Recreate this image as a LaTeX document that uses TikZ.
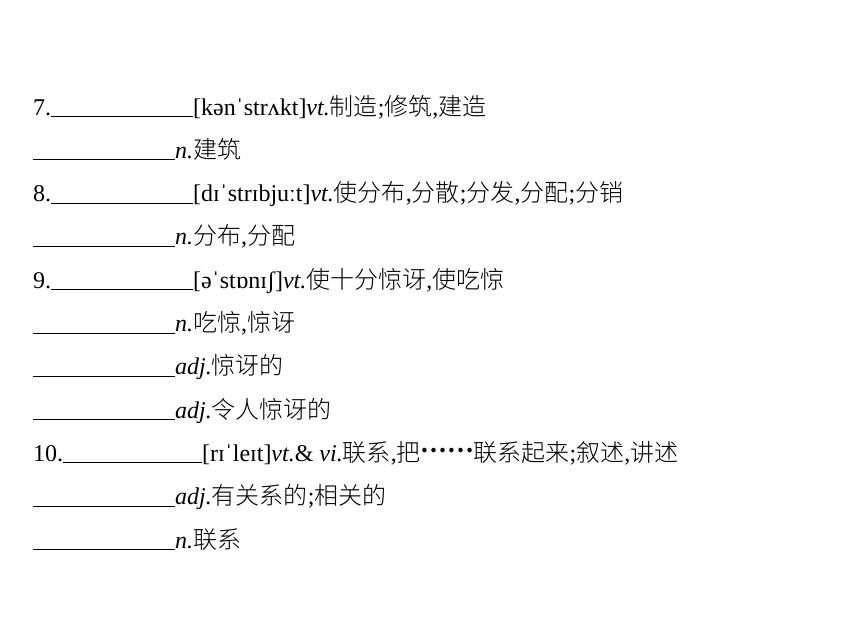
\documentclass[tikz,border=0pt]{standalone}
\usepackage{fontspec}
\setmainfont{Liberation Serif}
\newfontfamily\cjk{Noto Sans CJK SC Light}
\newfontfamily\cjkbold{Noto Sans CJK SC Bold}
\newcommand\zh[1]{{\cjk #1}}
\newcommand\blank{\rule[-2pt]{142pt}{1pt}}
\newcommand\zhdots{\raisebox{0.36em}{\cjkbold ……}}
\begin{document}
\begin{tikzpicture}[x=1pt,y=1pt]
\tikzset{ln/.style={anchor=base west, inner sep=0pt, font=\fontsize{24}{24}\selectfont}}
\useasboundingbox (0,0) rectangle (860,-643);
\fill[white] (0,0) rectangle (860,-643);
\node[ln] (l1) at (33,-115) {7.\blank[kənˈstrʌkt]\textit{vt.}\zh{制造};\zh{修筑},\zh{建造}};
\node[ln] (l2) at (33,-158.3) {\blank\textit{n.}\zh{建筑}};
\node[ln] (l3) at (33,-201.6) {8.\blank[dɪˈstrɪbjuːt]\textit{vt.}\zh{使分布},\zh{分散};\zh{分发},\zh{分配};\zh{分销}};
\node[ln] (l4) at (33,-244.9) {\blank\textit{n.}\zh{分布},\zh{分配}};
\node[ln] (l5) at (33,-288.2) {9.\blank[əˈstɒnɪʃ]\textit{vt.}\zh{使十分惊讶},\zh{使吃惊}};
\node[ln] (l6) at (33,-331.5) {\blank\textit{n.}\zh{吃惊},\zh{惊讶}};
\node[ln] (l7) at (33,-374.8) {\blank\textit{adj.}\zh{惊讶的}};
\node[ln] (l8) at (33,-418.1) {\blank\textit{adj.}\zh{令人惊讶的}};
\node[ln] (l9) at (33,-461.4) {10.\rule[-2pt]{139pt}{1pt}[rɪˈleɪt]\textit{vt.}\& \textit{vi.}\zh{联系},\zh{把}\zhdots\zh{联系起来};\zh{叙述},\zh{讲述}};
\node[ln] (l10) at (33,-504.7) {\blank\textit{adj.}\zh{有关系的};\zh{相关的}};
\node[ln] (l11) at (33,-548) {\blank\textit{n.}\zh{联系}};
\end{tikzpicture}
\end{document}
